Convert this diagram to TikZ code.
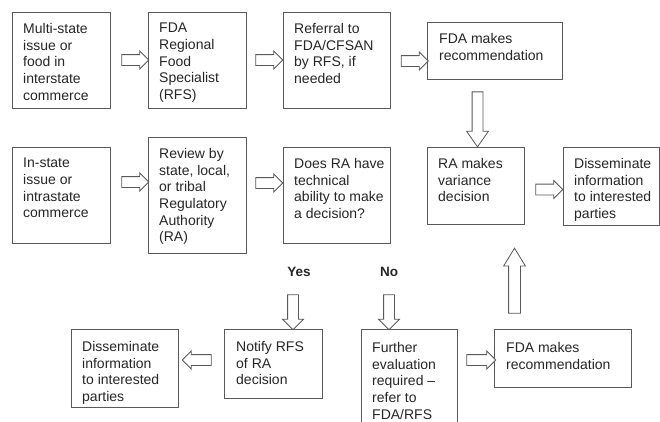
\documentclass[tikz,border=0pt]{standalone}
\usepackage{fontspec}
\setmainfont{Liberation Sans}
\usetikzlibrary{shapes.arrows}
\tikzset{
  box/.style={rectangle, draw=black!65, line width=0.8bp, inner sep=0, anchor=north west},
  txt/.style={anchor=north west, inner sep=0, align=left, text=black!85,
    font=\fontsize{14bp}{16.7bp}\selectfont},
  blk/.style={single arrow, draw=black!65, line width=0.8bp, fill=white,
    inner xsep=0, inner ysep=5bp, single arrow head extend=3.5bp,
    single arrow tip angle=90, minimum height=27bp},
  lbl/.style={inner sep=0, text=black!85, font=\bfseries\fontsize{13.5bp}{16bp}\selectfont}
}
\begin{document}
\begin{tikzpicture}[x=1bp, y=-1bp]
\useasboundingbox[fill=white] (0,0) rectangle (660,421);

% boxes
\node[box, minimum width=98bp,  minimum height=96bp]  (b1)  at (12,12)   {};
\node[box, minimum width=98bp,  minimum height=96bp]  (b2)  at (148,12)  {};
\node[box, minimum width=107bp, minimum height=96bp]  (b3)  at (283,12)  {};
\node[box, minimum width=135bp, minimum height=57bp]  (b4)  at (427,22)  {};
\node[box, minimum width=98bp,  minimum height=96bp]  (b5)  at (12,147)  {};
\node[box, minimum width=98bp,  minimum height=116bp] (b6)  at (148,137) {};
\node[box, minimum width=107bp, minimum height=96bp]  (b7)  at (283,147) {};
\node[box, minimum width=97bp,  minimum height=77bp]  (b8)  at (427,147) {};
\node[box, minimum width=96bp,  minimum height=78bp]  (b9)  at (563,147) {};
\node[box, minimum width=98bp,  minimum height=69bp]  (b10) at (224,329) {};
\node[box, minimum width=107bp, minimum height=78bp]  (b11) at (71,329)  {};
\node[box, minimum width=96bp,  minimum height=100bp] (b12) at (361,329) {};
\node[box, minimum width=137bp, minimum height=58bp]  (b13) at (494,329) {};

% texts
\node[txt] (t1)  at ([xshift=11bp,yshift=-11bp]b1.north west)  {Multi-state\\issue or\\food in\\interstate\\commerce};
\node[txt] (t2)  at ([xshift=11bp,yshift=-11bp]b2.north west)  {FDA\\Regional\\Food\\Specialist\\(RFS)};
\node[txt] (t3)  at ([xshift=11bp,yshift=-11bp]b3.north west)  {Referral to\\FDA/CFSAN\\by RFS, if\\needed};
\node[txt] (t4)  at ([xshift=12bp,yshift=-11bp]b4.north west)  {FDA makes\\recommendation};
\node[txt] (t5)  at ([xshift=11bp,yshift=-11bp]b5.north west)  {In-state\\issue or\\intrastate\\commerce};
\node[txt] (t6)  at ([xshift=11bp,yshift=-11bp]b6.north west)  {Review by\\state, local,\\or tribal\\Regulatory\\Authority\\(RA)};
\node[txt] (t7)  at ([xshift=11bp,yshift=-11bp]b7.north west)  {Does RA have\\technical\\ability to make\\a decision?};
\node[txt] (t8)  at ([xshift=11bp,yshift=-11bp]b8.north west)  {RA makes\\variance\\decision};
\node[txt] (t9)  at ([xshift=11bp,yshift=-11bp]b9.north west)  {Disseminate\\information\\to interested\\parties};
\node[txt] (t10) at ([xshift=12bp,yshift=-12bp]b10.north west) {Notify RFS\\of RA\\decision};
\node[txt] (t11) at ([xshift=11bp,yshift=-12bp]b11.north west) {Disseminate\\information\\to interested\\parties};
\node[txt] (t12) at ([xshift=11bp,yshift=-13bp]b12.north west) {Further\\evaluation\\required --\\refer to\\FDA/RFS};
\node[txt] (t13) at ([xshift=12bp,yshift=-13bp]b13.north west) {FDA makes\\recommendation};

% labels
\node[lbl] (yes) at (299,272) {Yes};
\node[lbl] (no)  at (389,272) {No};

% block arrows
\node[blk] (a1) at (132.5,60) {};
\node[blk] (a2) at (266.5,60) {};
\node[blk] (a3) at (412,61)   {};
\node[blk] (a4) at (132.5,182) {};
\node[blk] (a5) at (266.5,183) {};
\node[blk] (a6) at (546.5,189.5) {};
\node[blk, rotate=-90, minimum height=55bp, single arrow head extend=5.5bp, single arrow tip angle=70] (a7) at (477.5,115.5) {};
\node[blk, rotate=-90, minimum height=35bp, single arrow head extend=5bp] (a8) at (293,309.5) {};
\node[blk, rotate=-90, minimum height=35bp, single arrow head extend=5bp] (a9) at (389,309.5) {};
\node[blk, rotate=180, minimum height=29bp] (a10) at (199.5,360) {};
\node[blk, minimum height=29bp] (a11) at (478.5,360) {};
\node[blk, rotate=90, minimum height=65bp, inner ysep=5.5bp, single arrow head extend=5bp, single arrow tip angle=63] (a12) at (514.5,285.5) {};
\end{tikzpicture}
\end{document}
